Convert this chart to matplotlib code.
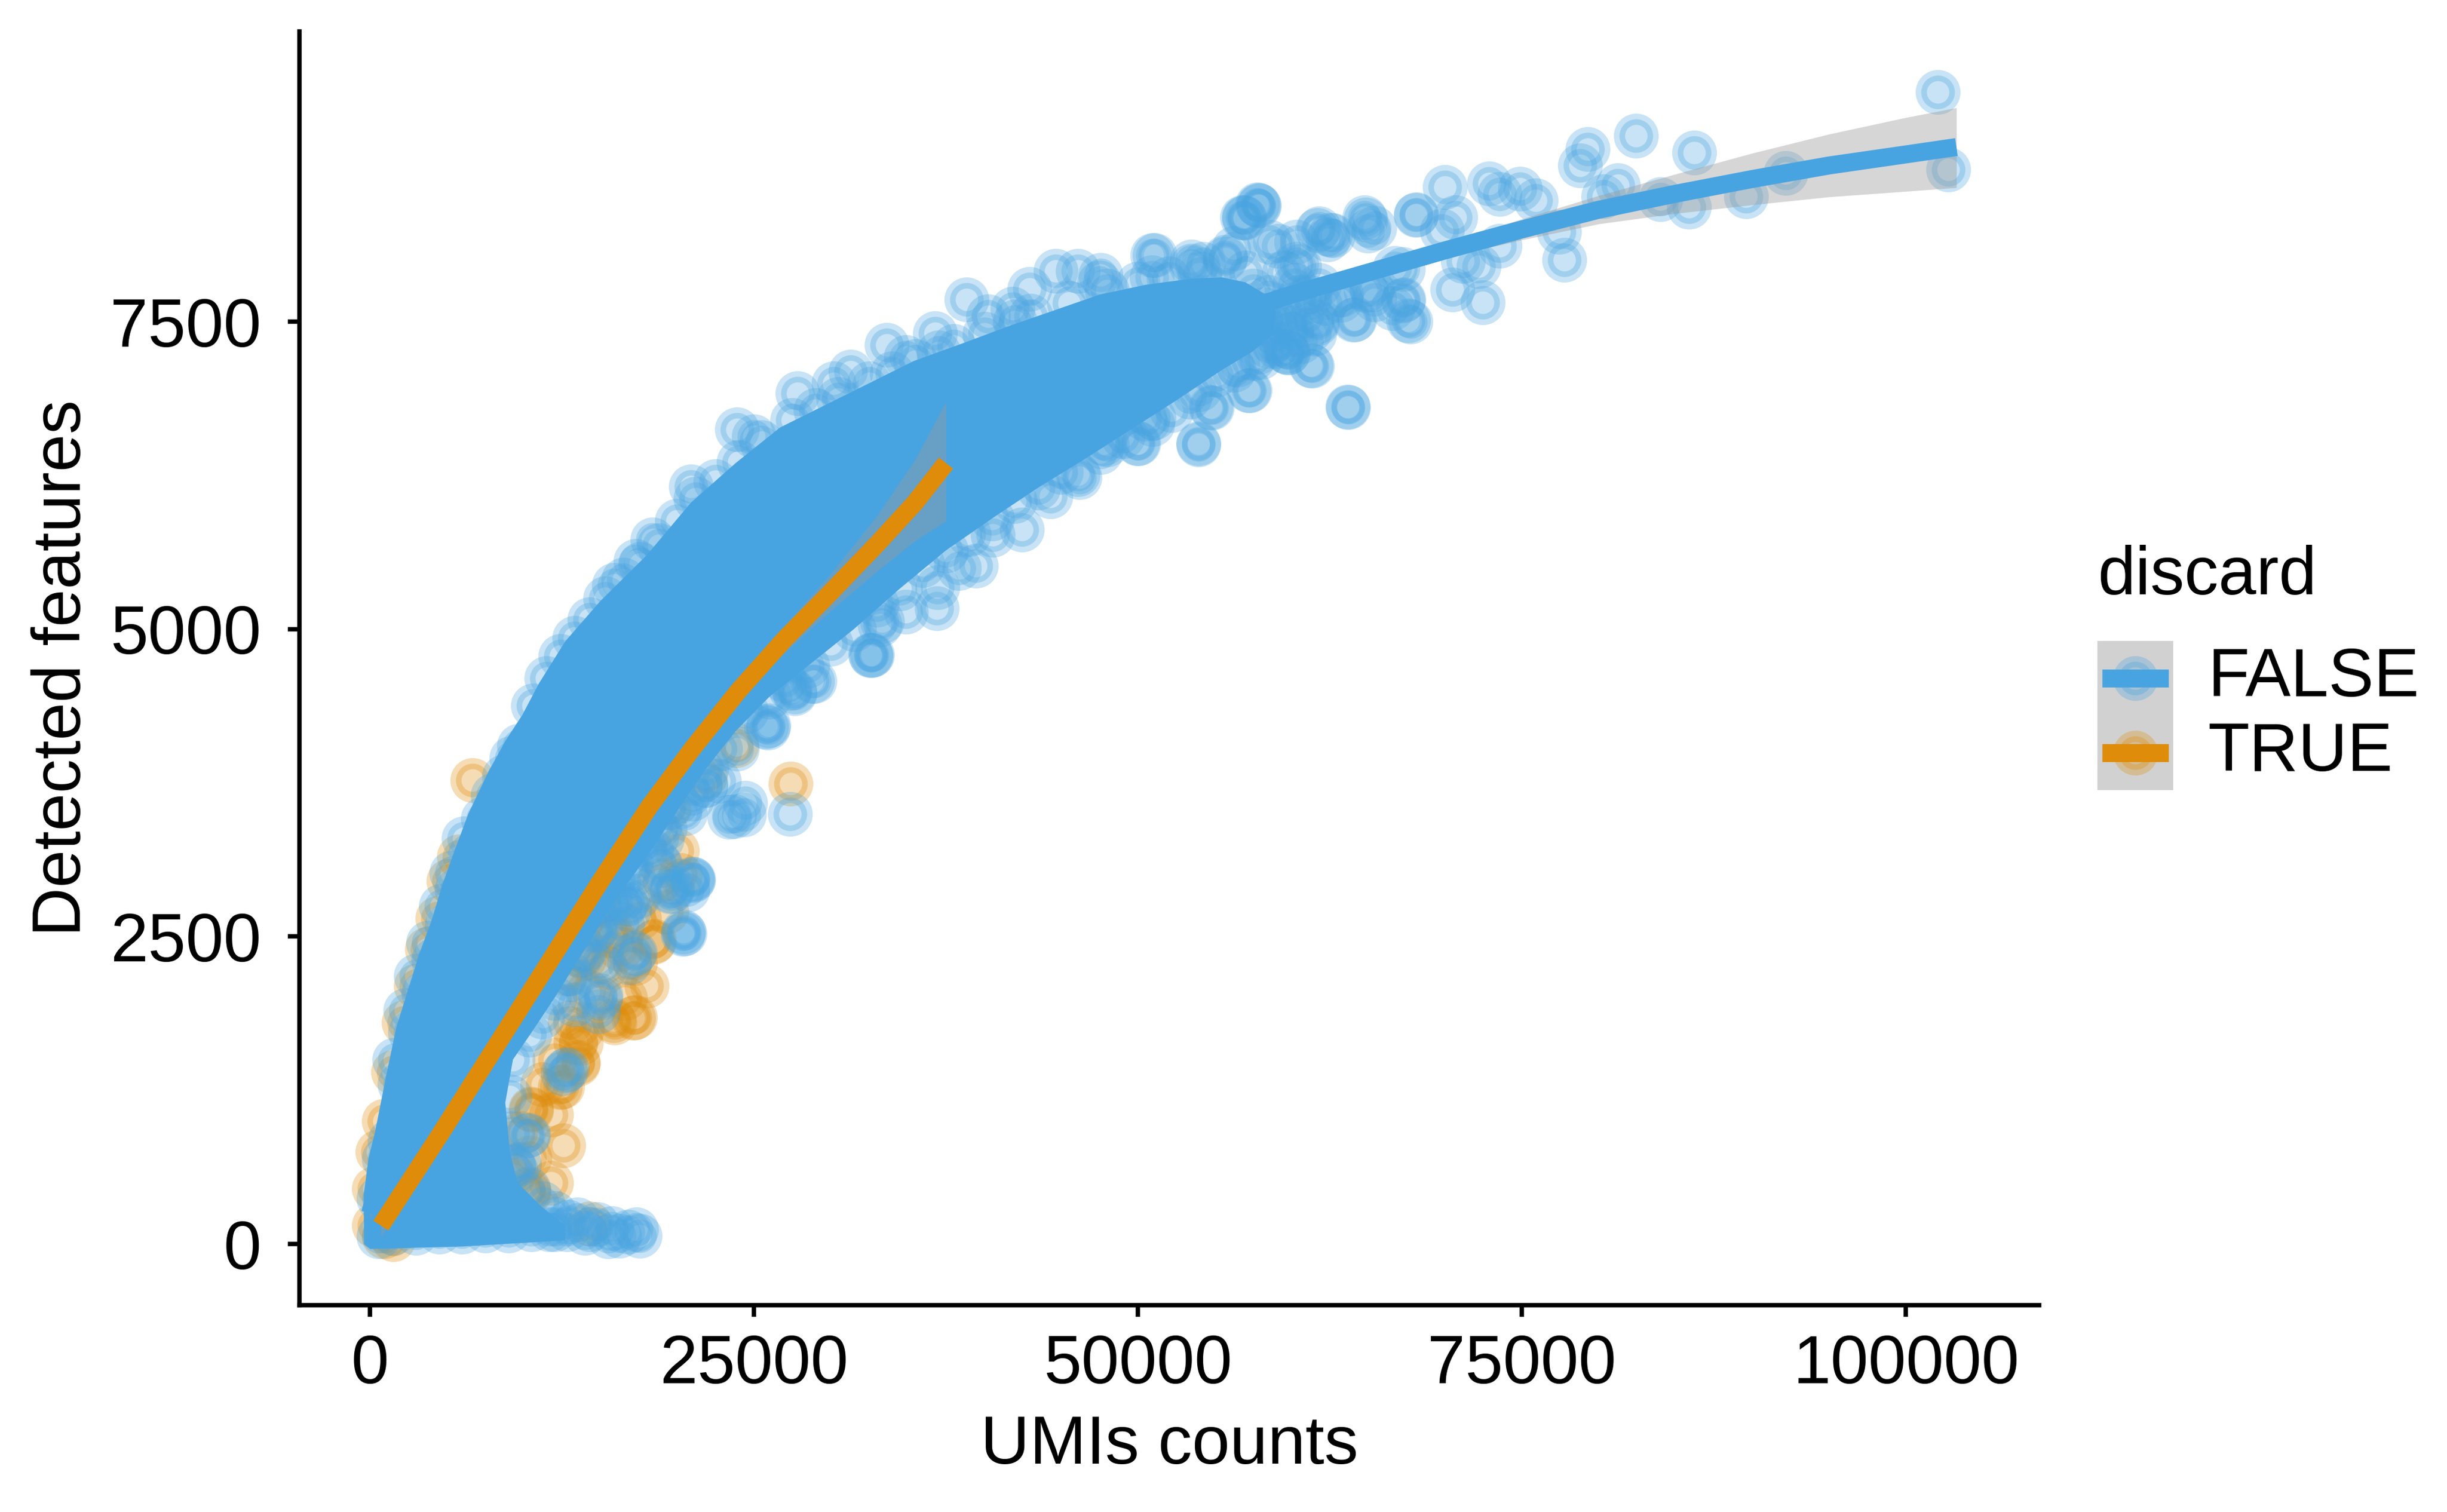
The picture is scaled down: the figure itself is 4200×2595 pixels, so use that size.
import matplotlib
matplotlib.use("Agg")
import matplotlib.pyplot as plt

plt.rcParams['font.family'] = ['Liberation Sans', 'DejaVu Sans']
plt.rcParams['font.size'] = 14

BLUE = "#48A4E1"
ORANGE = "#DE8C0A"
GREY = "#999999"

# dense core of the FALSE cloud (outline)
core_upper_x = [-400, -420, -100, 300, 1000, 1700, 2500, 3200, 4000, 4700, 5500, 6400, 7700, 8800, 9900,
                11000, 12700, 15000, 18000, 20900, 23800, 26700, 29600, 32500, 35400, 38500, 41500, 44500,
                47500, 50500, 53500, 55500, 57000, 58200, 59000]
core_upper_y = [0, 400, 700, 900, 1340, 1760, 2080, 2360, 2630, 2920, 3200, 3500, 3840, 4090, 4300,
                4560, 4900, 5230, 5600, 6030, 6350, 6640, 6820, 7000, 7180, 7320, 7460, 7590,
                7720, 7800, 7850, 7860, 7820, 7730, 7580]
core_lower_x = [58800, 57500, 55500, 52500, 49500, 46500, 43500, 40500, 37500, 34500, 31500, 28500, 26000,
                23800, 21900, 20200, 18300, 16000, 14000, 12000, 10400, 9300, 8800, 9100, 9600, 11100, 12700,
                12700, 6000, 0]
core_lower_y = [7400, 7260, 7110, 6860, 6620, 6380, 6150, 5900, 5640, 5330, 5000, 4700, 4450,
                4170, 3870, 3560, 3200, 2800, 2400, 2000, 1700, 1500, 1150, 750, 500, 310, 150,
                30, -20, -40]

# FALSE cells along the upper edge of the cloud
edge_up_x = [570, 570, 900, 1260, 1930, 2610, 3460, 4140, 4980, 5660, 6510, 7350, 8700, 9700, 1600, 2300,
             3000, 3800, 4600, 5300, 6100, 8000, 9200,
             10600, 11500, 12400, 13300, 14300, 15300, 16500, 17600, 18800, 20000, 21200, 22500, 24000,
             25500, 27500, 29000, 30500, 32500, 34000, 35500, 37000, 38000, 40000, 42000, 43000, 45500,
             48000, 50000, 52000, 54000, 57000, 47550, 50890, 54230, 56260, 58580]
edge_up_y = [60, 370, 690, 840, 1300, 1720, 2040, 2310, 2590, 2880, 3160, 3460, 3800, 4050, 1500, 1900,
             2180, 2450, 2750, 3020, 3300, 3650, 3950,
             4380, 4600, 4780, 4930, 5080, 5250, 5400, 5530, 5680, 5880, 6060, 6200, 6360,
             6520, 6700, 6780, 6870, 7000, 7080, 7180, 7250, 7300, 7400, 7500, 7550, 7650,
             7750, 7810, 7850, 7890, 7900, 7880, 7862, 7971, 8096, 8151]

# FALSE cells along the lower edge of the cloud
edge_low_x = [60000, 56500, 45000, 42000, 39000, 36000, 33000, 30000, 27000, 24500, 22800,
              21900, 20200, 18300, 16000, 14000, 12000, 10400, 9300, 21000, 19200, 17100, 15000, 13000, 11200,
              9100, 9300, 9700, 10300, 11200, 12000, 12900,
              46100, 47550, 49000, 50450, 52190, 53360, 55100, 56260, 58000, 59160,
              1500, 3000, 4500, 6000, 7500, 9000, 10500, 12000, 13500, 14800, 15500, 16800,
              59000, 57500, 54000, 51000, 48000, 43500, 40500, 37500, 34500, 31500, 28500, 26000]
edge_low_y = [7400, 7150, 6280, 6040, 5770, 5520, 5200, 4880, 4580, 4330, 4030,
              3870, 3560, 3200, 2800, 2400, 2000, 1700, 1500, 3700, 3380, 3000, 2600, 2200, 1850,
              1200, 900, 650, 450, 330, 250, 180,
              6259, 6439, 6565, 6709, 6781, 6889, 7069, 7105, 7213, 7321,
              90, 90, 100, 100, 110, 110, 120, 120, 200, 160, 60, 100,
              7300, 7200, 6950, 6720, 6500, 6150, 5900, 5640, 5330, 5000, 4700, 4450]

# FALSE cells where the cloud thins out (55000-62000)
taper_x = [58500, 59500, 60000, 59000, 60500, 61000, 61500, 58000, 59500, 60500, 61800, 62200, 58500,
           59800, 57500, 58200, 60200, 61200]
taper_y = [7700, 7600, 7450, 7450, 7700, 7550, 7400, 7500, 7900, 7950, 7800, 7650, 7300,
           7250, 7750, 7600, 7800, 7700]

# scattered FALSE cells outside the core
false_x = [15880, 17300, 18400, 20900, 23890, 24990, 27820, 30180, 31280, 33640, 34900, 36790, 38830,
           40250, 41820, 42920, 44660, 46070, 47490, 50950, 53470, 55670, 56930, 57870, 56770, 57780,
           61680, 62700, 64740, 65410, 68120, 69980, 70660, 72860, 73540, 74900, 75910, 79300, 78790,
           82450, 81260, 80310, 86240, 84040, 85900, 89620, 92170, 102090, 102770, 77770, 77430, 73540,
           72180, 70490, 72450, 67610, 67270, 64050, 63710, 61270, 59640, 57270, 65240, 61680, 63200,
           60320, 59140, 67270, 71170, 69810,
           62500, 64830, 64970, 68100, 64830, 65410, 67290, 67740, 64110, 61640, 61350, 59750, 63670,
           54810, 53940, 50020, 51110, 53500, 55680, 57860, 56910, 61780, 62360, 60330, 66710, 63230,
           66560, 60610, 58870,
           25780, 27660, 28920, 32700, 33330, 34900, 36950, 38360, 39460, 40560, 42450, 44300, 46200,
           47770, 49970, 50950, 53930, 54720, 57210,
           20960, 20670, 19510, 20370, 17190, 16890, 15010, 14860, 12830, 12540, 10220, 9340, 24440,
           23720, 27350, 22700, 21830, 20960, 18930, 17480, 16890, 25890, 27350, 28800, 32580, 36920,
           24330, 23400, 21840, 20520, 21030, 19680, 20400, 16630, 17260, 18990, 18800, 32620, 27630,
           25940, 23880, 33190, 14980, 12690, 10320, 9480, 20490, 16760, 19650, 21010, 14720,
           13000, 13800, 14600, 15400, 16200, 17000, 17800, 18600, 19400, 13300, 14900, 16400,
           11670, 12820, 14290, 15740, 17340, 14000, 16240, 17570]
false_y = [5358, 5553, 5729, 6158, 6626, 6568, 6919, 6998, 7095, 7310, 7213, 7408, 7681,
           7545, 7603, 7767, 7915, 7915, 7817, 8040, 7954, 8013, 8345, 8442, 8350, 8455,
           8245, 8202, 8350, 8265, 8371, 8594, 8350, 8623, 8539, 8581, 8484, 8905, 8770,
           9010, 8611, 8518, 8875, 8497, 8434, 8518, 8707, 9367, 8736, 8005, 8232, 8118,
           7950, 7761, 7656, 7509, 7669, 7517, 6803, 7143, 7257, 6942, 7761, 7488, 7677,
           7971, 8118, 7929, 7993, 8241,
           8205, 8331, 8241, 8367, 7754, 7682, 7682, 7502, 7520, 7502, 7142, 7249, 6807,
           6799, 6502, 6511, 8042, 7988, 8024, 8448, 8349, 8259, 8169, 8151, 7934, 7718,
           7611, 7339, 7539,
           4206, 4480, 4577, 4792, 5066, 5143, 5339, 5494, 5514, 5768, 5807, 6080, 6237,
           6511, 6511, 6666, 6511, 6803, 6940,
           2973, 2883, 2865, 2523, 2361, 2289, 2018, 1892, 1424, 1388, 884, 631, 3586,
           3478, 3496, 3766, 3730, 3622, 3081, 2829, 2721, 4198, 4522, 4576, 4792, 5170,
           3493, 3472, 3735, 3504, 2968, 2895, 2538, 2768, 2368, 3295, 3105, 4786, 4491,
           4218, 4029, 5038, 2000, 1412, 887, 603, 2528, 2789, 2873, 2957, 2558,
           2150, 2350, 2550, 2750, 2950, 3100, 3250, 3400, 3550, 1950, 2300, 2600,
           120, 120, 120, 130, 120, 90, 66, 66]

# TRUE cells
true_x = [250, 250, 500, 900, 1500, 2200, 3000, 3700, 4400, 5100, 5800, 900, 1500,
          6680, 27390, 18490, 17150, 15840, 13370, 13520, 12500, 10470, 13950, 15700, 23860, 19500,
          21820, 10360, 14290, 9330, 17260, 15740, 15230, 14890, 13700, 12730, 17260, 15920, 18440,
          13540, 12360, 10490, 10320, 13710,
          11200, 12000, 13000, 14200, 15300, 16300, 17500, 18800, 20000, 11800, 13800, 10400, 11800,
          12600, 16600, 18000, 19300, 20200, 9800]
true_y = [150, 450, 750, 1000, 1400, 1800, 2100, 2400, 2650, 2950, 3150, 60, 40,
          3773, 3741, 2462, 1838, 1820, 1640, 1478, 1280, 1100, 2326, 2505, 4054, 3550,
          3802, 414, 165, 560, 2285, 2538, 2937, 2768, 2348, 2201, 1843, 1801, 2453,
          1465, 1276, 1088, 435, 1634,
          1300, 1500, 1800, 2050, 2250, 2400, 2650, 2950, 3200, 1050, 1750, 700, 500,
          800, 2000, 2100, 2700, 3000, 900]

# smoothed fits with confidence band
fit_false_x = [0, 2500, 5000, 10000, 15000, 20000, 25000, 30000, 35000, 40000, 45000, 50000, 55000,
               60000, 65000, 70000, 75000, 80000, 85000, 90000, 95000, 100000, 103300]
fit_false_y = [250, 1400, 2300, 3500, 4350, 5000, 5550, 6000, 6400, 6750, 7050, 7300, 7520,
               7720, 7900, 8080, 8250, 8410, 8540, 8660, 8770, 8860, 8920]
fit_false_hi = [310, 1440, 2330, 3525, 4375, 5025, 5575, 6025, 6425, 6775, 7075, 7325, 7550,
                7755, 7945, 8140, 8335, 8525, 8700, 8870, 9025, 9160, 9240]
fit_false_lo = [190, 1360, 2270, 3475, 4325, 4975, 5525, 5975, 6375, 6725, 7025, 7275, 7490,
                7685, 7855, 8020, 8165, 8295, 8380, 8450, 8515, 8560, 8590]

fit_true_x = [700, 4500, 8000, 11500, 15000, 18200, 21000, 24000, 27000, 30000, 33000, 35500, 37500]
fit_true_y = [150, 880, 1570, 2260, 2950, 3560, 4030, 4500, 4920, 5300, 5690, 6030, 6350]
fit_true_hi = [240, 930, 1610, 2300, 2995, 3610, 4090, 4580, 5030, 5450, 5920, 6380, 6850]
fit_true_lo = [60, 830, 1530, 2220, 2905, 3510, 3970, 4420, 4810, 5150, 5470, 5720, 5880]

groups = ["FALSE", "TRUE"]
colors = [BLUE, ORANGE]

fig = plt.figure(figsize=(7, 4.325), dpi=600)
ax = fig.add_axes([0.1224, 0.1368, 0.711, 0.8424])

pt_kw = dict(s=48, linewidths=2.3, alpha=0.3)
ax.scatter(true_x, true_y, color=ORANGE, zorder=1, **pt_kw)
ax.fill(core_upper_x + core_lower_x, core_upper_y + core_lower_y, color=BLUE, lw=0, zorder=2)
ax.scatter(edge_up_x + edge_low_x + taper_x + false_x, edge_up_y + edge_low_y + taper_y + false_y,
           color=BLUE, zorder=3, **pt_kw)

ax.fill_between(fit_false_x, fit_false_lo, fit_false_hi, color=GREY, alpha=0.4, lw=0, zorder=4)
ax.plot(fit_false_x, fit_false_y, color=BLUE, lw=3.7, solid_capstyle='butt', zorder=5)
ax.fill_between(fit_true_x, fit_true_lo, fit_true_hi, color=GREY, alpha=0.4, lw=0, zorder=6)
ax.plot(fit_true_x, fit_true_y, color=ORANGE, lw=3.7, solid_capstyle='butt', zorder=7)

ax.set_xlim(-4600, 108700)
ax.set_ylim(-497, 9860)
ax.set_xticks([0, 25000, 50000, 75000, 100000])
ax.set_yticks([0, 2500, 5000, 7500])
ax.set_xticklabels(["0", "25000", "50000", "75000", "100000"])
ax.set_yticklabels(["0", "2500", "5000", "7500"])
for s in ["top", "right"]:
    ax.spines[s].set_visible(False)
for s in ["left", "bottom"]:
    ax.spines[s].set_linewidth(0.9)
ax.tick_params(axis='both', length=2.4, width=0.9, labelsize=14, colors='black')
ax.tick_params(axis='x', pad=3.5)
ax.tick_params(axis='y', pad=5.5)

ax.set_xlabel("UMIs counts", fontsize=14)
ax.set_ylabel("Detected features", fontsize=14)
ax.xaxis.set_label_coords(0.5, -0.1107)
ax.xaxis.label.set_va('center')
ax.yaxis.set_label_coords(-0.136, 0.5)
ax.yaxis.label.set_va('center')

# legend drawn by hand
fig.text(3600 / 4200, 1 - 990 / 2595, "discard", fontsize=14, va='center', ha='left')
lax = fig.add_axes([3600 / 4200, 1 - 1356 / 2595, 130 / 4200, 256 / 2595])
lax.set_xlim(0, 1)
lax.set_ylim(0, 2)
lax.axis('off')
lax.axhspan(0, 2, color=GREY, alpha=0.45, lw=0)
for i, (g, c) in enumerate(zip(groups, colors)):
    yc = 1.5 - i
    lax.scatter([0.5], [yc], color=c, **pt_kw)
    lax.plot([0.06, 0.94], [yc, yc], color=c, lw=3.7, solid_capstyle='butt')
    fig.text(3789 / 4200, 1 - (1164 + 128 * i) / 2595, g, fontsize=14, va='center', ha='left')

fig.savefig("out.png", dpi=600)
